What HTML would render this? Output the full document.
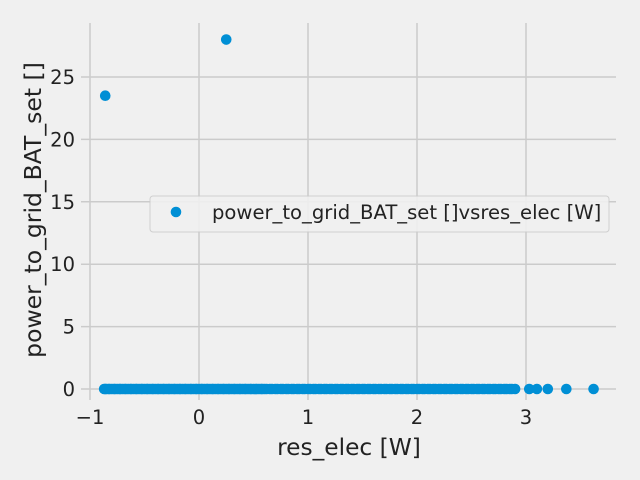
<!DOCTYPE html>
<html><head><meta charset="utf-8"><style>
body{margin:0;background:#f0f0f0;}
svg{display:block;font-family:"DejaVu Sans","Liberation Sans",sans-serif;}
</style></head><body>
<svg id="chart" width="640" height="480">
<rect width="640" height="480" fill="#f0f0f0"/>
<g id="grid"></g>
<g id="ticks"></g>
<g id="pts"></g>
<text x="349" y="455" font-size="23.3" text-anchor="middle" fill="#222">res_elec [W]</text>
<text transform="translate(41,210) rotate(-90)" font-size="23.5" text-anchor="middle" fill="#222">power_to_grid_BAT_set []</text>
<g>
<rect x="150" y="196" width="459" height="36" rx="3" fill="#f0f0f0" stroke="#cccccc" opacity="0.9"/>
<circle cx="176" cy="212" r="5.3" fill="#008fd5"/>
<text x="212" y="219" font-size="19.6" fill="#222">power_to_grid_BAT_set []vsres_elec [W]</text>
</g>
</svg>
<script>
const xTicks=[-1,0,1,2,3];
const yTicks=[0,5,10,15,20,25];
const zeroX=[-0.87,-0.86,-0.85,-0.83,-0.82,-0.8,-0.78,-0.77,-0.75,-0.73,-0.72,-0.7,-0.68,-0.67,-0.65,-0.63,-0.62,-0.6,-0.58,-0.57,-0.55,-0.53,-0.52,-0.5,-0.48,-0.47,-0.45,-0.43,-0.42,-0.4,-0.38,-0.37,-0.35,-0.33,-0.32,-0.3,-0.28,-0.27,-0.25,-0.23,-0.22,-0.2,-0.18,-0.17,-0.15,-0.13,-0.12,-0.1,-0.08,-0.07,-0.05,-0.03,-0.02,0,0.02,0.03,0.05,0.07,0.08,0.1,0.12,0.13,0.15,0.17,0.18,0.2,0.22,0.23,0.25,0.27,0.28,0.3,0.32,0.33,0.35,0.37,0.38,0.4,0.42,0.43,0.45,0.47,0.48,0.5,0.52,0.53,0.55,0.57,0.58,0.6,0.62,0.65,0.67,0.7,0.72,0.75,0.77,0.8,0.82,0.85,0.87,0.9,0.92,0.95,0.97,1.0,1.02,1.05,1.07,1.1,1.12,1.15,1.17,1.2,1.22,1.25,1.27,1.3,1.32,1.35,1.37,1.4,1.42,1.45,1.47,1.5,1.52,1.55,1.57,1.6,1.62,1.65,1.67,1.7,1.72,1.75,1.77,1.8,1.82,1.85,1.87,1.9,1.92,1.95,1.97,2.0,2.02,2.05,2.07,2.1,2.12,2.15,2.17,2.2,2.22,2.25,2.27,2.3,2.32,2.35,2.37,2.4,2.42,2.45,2.47,2.5,2.52,2.55,2.57,2.6,2.62,2.65,2.67,2.7,2.72,2.75,2.77,2.8,2.82,2.85,2.87,2.9,3.03,3.1,3.2,3.37,3.62];
const outX=[-0.86,0.25];
const outY=[23.5,28];
const NS="http://www.w3.org/2000/svg";
const sx=v=>199+(v)*109;
const sy=v=>389-v*12.48;
const grid=document.getElementById('grid'),ticks=document.getElementById('ticks'),pts=document.getElementById('pts');
function mk(tag,at,parent){const e=document.createElementNS(NS,tag);for(const k in at)e.setAttribute(k,at[k]);parent.appendChild(e);return e;}
xTicks.forEach(t=>{
 const l=mk('line',{x1:sx(t),x2:sx(t),y1:23,y2:400,stroke:'#cbcbcb','stroke-width':1.5},grid);
 
 
 const tx=mk('text',{x:sx(t),y:424,'font-size':19.5,'text-anchor':'middle',fill:'#222'},ticks);
 tx.textContent=t<0?'\u2212'+(-t):t;
 
 
});
yTicks.forEach(t=>{
 const l=mk('line',{x1:81,x2:616,y1:sy(t),y2:sy(t),stroke:'#cbcbcb','stroke-width':1.5},grid);
 
 
 const tx=mk('text',{x:75,y:sy(t)+7,'font-size':19.5,'text-anchor':'end',fill:'#222'},ticks);
 tx.textContent=t;
 
 
});
zeroX.forEach(v=>{
 const c=mk('circle',{cx:sx(v),cy:sy(0),r:5.3,fill:'#008fd5'},pts);
 
 
});
outX.forEach((v,i)=>{
 const c=mk('circle',{cx:sx(v),cy:sy(outY[i]),r:5.3,fill:'#008fd5'},pts);
 
 
});
</script>
</body></html>
